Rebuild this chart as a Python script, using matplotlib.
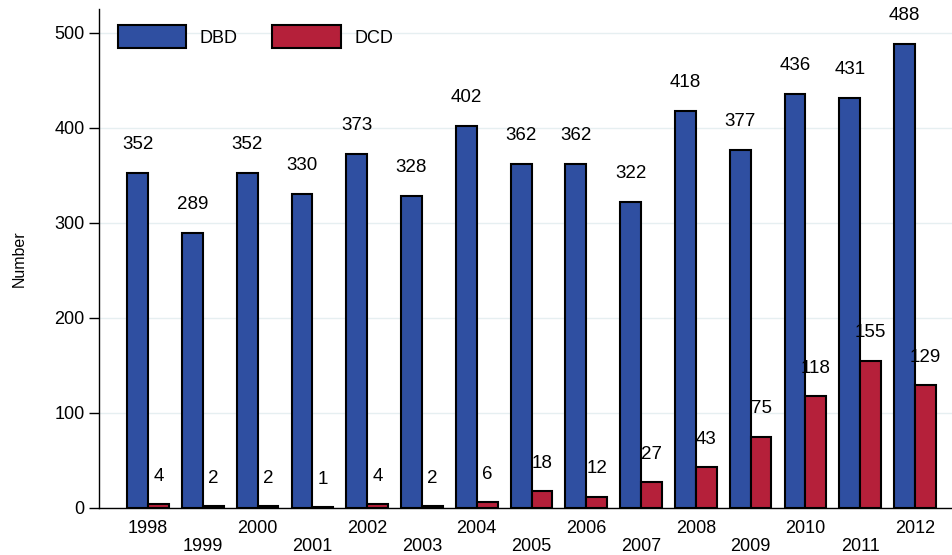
import numpy as np
import matplotlib
matplotlib.use("Agg")
import matplotlib.pyplot as plt

plt.rcParams['font.family'] = ['Liberation Sans', 'DejaVu Sans']

# data
years = [1998, 1999, 2000, 2001, 2002, 2003, 2004, 2005, 2006, 2007, 2008, 2009, 2010, 2011, 2012]
dbd = [352, 289, 352, 330, 373, 328, 402, 362, 362, 322, 418, 377, 436, 431, 488]
dcd = [4, 2, 2, 1, 4, 2, 6, 18, 12, 27, 43, 75, 118, 155, 129]

blue = '#2f4fa1'
red = '#b5203a'
w = 0.38

fig = plt.figure(figsize=(9.52, 5.55), dpi=100)
ax = fig.add_axes([0.104, 0.0847, 0.896, 0.899])

x = np.arange(len(years))
ax.bar(x - w/2, dbd, w, color=blue, edgecolor='black', linewidth=1.5, label='DBD', zorder=3)
ax.bar(x + w/2, dcd, w, color=red, edgecolor='black', linewidth=1.5, label='DCD', zorder=3)

# value labels above the bars
for xi, v in zip(x, dbd):
    ax.annotate(str(v), (xi - w/2, v), xytext=(0, 20.5), textcoords='offset points',
                ha='center', va='center', fontsize=13.5)
for xi, v in zip(x, dcd):
    ax.annotate(str(v), (xi + w/2, v), xytext=(0, 20), textcoords='offset points',
                ha='center', va='center', fontsize=13.5)

ax.set_xlim(-0.894, 14.675)
ax.set_ylim(0, 525)
ax.set_yticks([0, 100, 200, 300, 400, 500])
ax.tick_params(axis='y', labelsize=13, length=7, width=1)
ax.set_ylabel('Number', fontsize=11.5, labelpad=20)

# staggered year labels
ax.set_xticks(x)
ax.set_xticklabels([str(y) if i % 2 == 0 else '\n' + str(y) for i, y in enumerate(years)],
                   fontsize=13, linespacing=1.02)
ax.tick_params(axis='x', length=0, pad=9)

ax.yaxis.grid(True, color='#e6eff1', linewidth=1, zorder=0)
ax.set_axisbelow(True)
for s in ['top', 'right']:
    ax.spines[s].set_visible(False)
ax.spines['left'].set_linewidth(1)
ax.spines['bottom'].set_linewidth(1)

ax.legend(loc='upper left', bbox_to_anchor=(0.003, 1.0), ncol=2, frameon=False,
          fontsize=13, handlelength=3.8, handleheight=1.6, columnspacing=1.9,
          handletextpad=0.75)

fig.savefig('out.png', dpi=100)
